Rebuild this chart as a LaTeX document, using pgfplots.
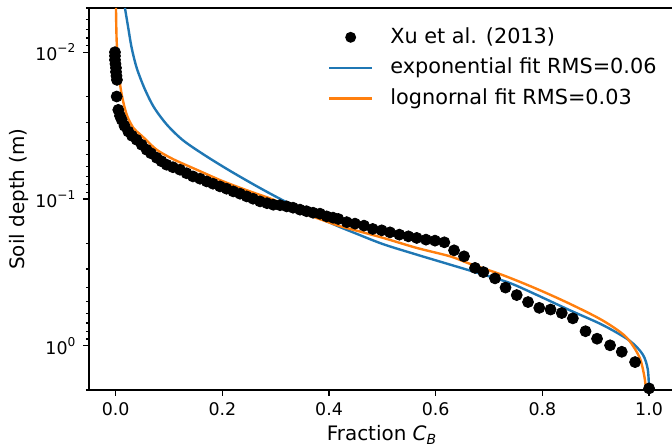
\documentclass[border=0pt]{standalone}
\usepackage{fontspec}
\setmainfont{DejaVu Sans}
\usepackage{pgfplots}
\pgfplotsset{compat=1.18}
\definecolor{mplblue}{HTML}{1F77B4}
\definecolor{mplorange}{HTML}{FF7F0E}
\pgfplotsset{
  dotleg/.style={legend image code/.code={\path[draw=none,fill=none] (0bp,0bp) -- (21.5bp,0bp); \fill[black,draw=none] (10.75bp,0bp) circle[radius=2.75bp];}},
  blueleg/.style={legend image code/.code={\draw[mplblue, line width=1.2bp] (0bp,0bp) -- (21.5bp,0bp);}},
  orangeleg/.style={legend image code/.code={\draw[mplorange, line width=1.2bp] (0bp,0bp) -- (21.5bp,0bp);}},
}
\begin{document}
\begin{tikzpicture}
\useasboundingbox (-44.5bp,-29bp) rectangle (291.5bp,195bp);
\begin{axis}[
  at={(0,0)}, anchor=south west,
  scale only axis, width=291.5bp, height=191bp,
  xmin=-0.05, xmax=1.043,
  ymode=log, y dir=reverse, ymin=0.005, ymax=2,
  axis x line=box, axis y line=left,
  axis line style={-, line width=0.7bp, black},
  xtick pos=left, ytick pos=left,
  xtick={0,0.2,0.4,0.6,0.8,1}, xticklabels={0.0,0.2,0.4,0.6,0.8,1.0},
  ytick={0.01,0.1,1}, yticklabels={10\textsuperscript{−2},10\textsuperscript{−1},10\textsuperscript{0}},
  minor ytick={0.005,0.006,0.007,0.008,0.009,0.02,0.03,0.04,0.05,0.06,0.07,0.08,0.09,0.2,0.3,0.4,0.5,0.6,0.7,0.8,0.9,2},
  tick align=outside, major tick length=2.8bp, minor tick length=1.6bp,
  every tick/.style={line width=0.6bp, black},
  ticklabel style={font=\fontsize{8.7bp}{10bp}\selectfont},
  xlabel={Fraction \textit{C}\textsubscript{\textit{B}}},
  ylabel={Soil depth (m)},
  label style={font=\fontsize{8.7bp}{10bp}\selectfont},
  every axis x label/.style={at={(axis description cs:0.5026,-0.1335)},anchor=base},
  every axis y label/.style={at={(axis description cs:-0.120,0.5)},rotate=90,anchor=center},
  legend cell align=left,
  legend style={draw=none, fill=none, at={(axis description cs:0.4099,0.9484)}, anchor=north west,
    inner sep=0pt, outer sep=0pt, row sep=5.7bp, column sep=8.5bp,
    font=\fontsize{10.4bp}{12bp}\selectfont,
    nodes={inner sep=0pt, text height=7.8bp, text depth=1.8bp}},
]
\addplot[only marks, mark=*, mark size=2.75bp, black, dotleg]
coordinates {
(-0.0013,0.0100) (-0.0013,0.0106) (-0.0013,0.01128) (-0.0004,0.01201) (0.0006,0.01279)
(0.0006,0.01361) (0.0015,0.01449) (0.0024,0.01543) (0.0019,0.02004) (0.0049,0.0247)
(0.0081,0.02712) (0.0113,0.02887) (0.0165,0.03172) (0.0236,0.03468) (0.0306,0.0371)
(0.0394,0.0395) (0.0488,0.04271) (0.0581,0.04619) (0.0662,0.0488) (0.0769,0.05236)
(0.0859,0.05532) (0.0956,0.05843) (0.1074,0.06076) (0.1206,0.06319) (0.1328,0.06675)
(0.1449,0.07018) (0.1581,0.07275) (0.1706,0.0759) (0.1824,0.07868) (0.1956,0.08209)
(0.2078,0.08508) (0.2205,0.08877) (0.2331,0.09202) (0.2456,0.096) (0.2575,0.09954)
(0.2706,0.1038) (0.2837,0.1068) (0.2955,0.1094) (0.3081,0.1102) (0.3206,0.1123)
(0.3325,0.1146) (0.3456,0.1182) (0.3578,0.1211) (0.37,0.124) (0.3831,0.1259)
(0.3956,0.1313) (0.4075,0.134) (0.4174,0.1368) (0.4332,0.1438) (0.4487,0.1472)
(0.4656,0.1519) (0.4819,0.16) (0.4988,0.1635) (0.5143,0.1687) (0.5318,0.1749)
(0.5487,0.1796) (0.5644,0.1842) (0.5818,0.1892) (0.5987,0.1922) (0.6162,0.1973)
(0.6344,0.2237) (0.6531,0.2457) (0.6737,0.2947) (0.6893,0.3148) (0.7112,0.3473)
(0.7309,0.4012) (0.7519,0.4513) (0.7731,0.5035) (0.7941,0.5513) (0.8153,0.5662)
(0.8363,0.5981) (0.8571,0.65) (0.8809,0.7957) (0.9025,0.8948) (0.9269,0.9922)
(0.9488,1.0985) (0.9738,1.291) (1.0,1.95)
};
\addlegendentry{Xu et al. (2013)}
\addplot[mplblue, line width=1.2bp, smooth, blueleg]
coordinates {
(0.0174,0.005) (0.0236,0.006836) (0.0300,0.009348) (0.0394,0.01279) (0.0540,0.01763)
(0.0718,0.02374) (0.0962,0.03123) (0.1262,0.03981) (0.1656,0.04995) (0.2106,0.0631)
(0.2575,0.0792) (0.2950,0.0941) (0.3268,0.1080) (0.3831,0.1353)
(0.4206,0.1553) (0.4519,0.1727) (0.5018,0.2033) (0.5644,0.2393) (0.6269,0.2798)
(0.6893,0.3273) (0.7394,0.3739) (0.7881,0.4477) (0.8506,0.5707) (0.9132,0.7221)
(0.9631,0.9203) (0.9882,1.146) (0.9976,1.449) (1.0,2.0)
};
\addlegendentry{exponential fit RMS=0.06}
\addplot[mplorange, line width=1.2bp, smooth, orangeleg]
coordinates {
(0.0006,0.005) (0.0019,0.008418) (0.0062,0.0142) (0.0113,0.01943) (0.0206,0.02658)
(0.0330,0.03273) (0.0456,0.03623) (0.0549,0.03889) (0.0769,0.04619) (0.1080,0.05361)
(0.1519,0.06319) (0.2018,0.0759) (0.2518,0.08877) (0.2955,0.1011) (0.3456,0.1220)
(0.3831,0.1372) (0.4206,0.1531) (0.4519,0.1643) (0.5018,0.1842) (0.5644,0.2154)
(0.6269,0.2457) (0.6631,0.2755) (0.7257,0.3299) (0.7881,0.4075) (0.8506,0.5157)
(0.9132,0.6728) (0.9569,0.8712) (0.9818,1.1918) (0.9912,1.618) (0.9944,2.0)
};
\addlegendentry{lognornal fit RMS=0.03}
\end{axis}
\end{tikzpicture}
\end{document}
